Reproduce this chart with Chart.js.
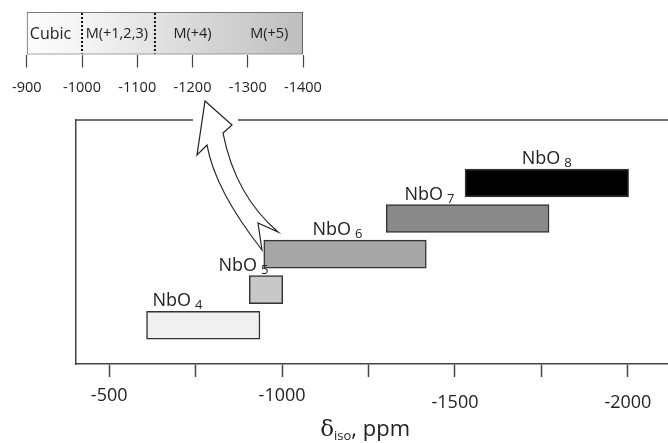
<!DOCTYPE html>
<html>
<head>
<meta charset="utf-8">
<script src="https://cdn.jsdelivr.net/npm/chart.js@4.4.1/dist/chart.umd.min.js"></script>
<style>
  body { margin: 0; background: #fff; }
  #wrap { position: relative; width: 668px; height: 443px; }
  canvas { position: absolute; left: 0; top: 0; }
</style>
</head>
<body>
<div id="wrap">
  <canvas id="mainChart" width="668" height="443"></canvas>
  <canvas id="insetChart" width="340" height="100"></canvas>
</div>
<script>
// main panel: chemical shift ranges of NbOx units
const speciesNames = ['NbO4', 'NbO5', 'NbO6', 'NbO7', 'NbO8'];
const rowIndex = [1, 2, 3, 4, 5];
const shiftFrom = [-608, -905, -947, -1301, -1529];
const shiftTo = [-936, -1002, -1417, -1772, -2002];
const labelAt = [-625, -816, -1088, -1354, -1693];
const barFills = ['#f0f0f0', '#c8c8c8', '#a6a6a6', '#8a8a8a', '#000000'];
const xTickValues = [-500, -750, -1000, -1250, -1500, -1750, -2000];

// inset: niobate classification scale
const insetRange = [-900, -1400];
const insetTickValues = [-900, -1000, -1100, -1200, -1300, -1400];
const insetRegions = ['Cubic', 'M(+1,2,3)', 'M(+4)', 'M(+5)'];
const insetRegionCentre = [-943, -1063, -1200, -1339];
const insetDividers = [-1000, -1132];

const textColor = '#222';
const lineColor = '#444';
const fontFamily = '"Open Sans", "DejaVu Sans", sans-serif';

const mainOverlay = {
    id: 'mainOverlay',
    afterDraw(chart) {
        const ctx = chart.ctx;
        const area = chart.chartArea;
        const xs = chart.scales.x;
        const ys = chart.scales.y;
        ctx.save();

        // top frame line, broken where the arrow passes
        ctx.strokeStyle = lineColor;
        ctx.lineWidth = 1.5;
        ctx.beginPath();
        ctx.moveTo(area.left - 0.75, area.top);
        ctx.lineTo(193, area.top);
        ctx.moveTo(238, area.top);
        ctx.lineTo(area.right, area.top);
        ctx.stroke();

        // staggered tick labels (every 500 ppm)
        ctx.fillStyle = textColor;
        ctx.font = '18px ' + fontFamily;
        ctx.textAlign = 'center';
        ctx.textBaseline = 'middle';
        xs.ticks.forEach(t => {
            if (t.value % 500 !== 0) return;
            const y = t.value < -1250 ? 403 : 396;
            ctx.fillText(String(t.value), xs.getPixelForValue(t.value), y);
        });

        // axis title
        ctx.textBaseline = 'alphabetic';
        ctx.textAlign = 'left';
        const cx = xs.getPixelForValue(-1240);
        ctx.font = '23px "DejaVu Serif", serif';
        const wd = ctx.measureText('\u03b4').width;
        ctx.font = '13px ' + fontFamily;
        const wi = ctx.measureText('iso').width;
        ctx.font = '22px ' + fontFamily;
        const wp = ctx.measureText(', ppm').width;
        let tx = cx - (wd + wi + wp) / 2;
        ctx.font = '23px "DejaVu Serif", serif';
        ctx.fillText('\u03b4', tx, 436);
        tx += wd;
        ctx.font = '13px ' + fontFamily;
        ctx.fillText('iso', tx, 440);
        tx += wi;
        ctx.font = '22px ' + fontFamily;
        ctx.fillText(', ppm', tx, 436);

        // species labels with subscripts
        speciesNames.forEach((name, i) => {
            const x = xs.getPixelForValue(labelAt[i]);
            const barTop = ys.getPixelForValue(rowIndex[i]) - 14;
            const base = barTop - 5;
            ctx.font = '18px ' + fontFamily;
            ctx.fillText(name.slice(0, 3), x, base);
            const w = ctx.measureText(name.slice(0, 3)).width;
            ctx.font = '13px ' + fontFamily;
            ctx.fillText(name.slice(3), x + w + 4, base + 3);
        });

        // curved open arrow pointing to the inset scale
        ctx.beginPath();
        ctx.moveTo(205, 101);
        ctx.lineTo(232, 125);
        ctx.lineTo(223, 133);
        ctx.quadraticCurveTo(235, 195, 278, 232);
        ctx.lineTo(258, 223);
        ctx.lineTo(262, 250);
        ctx.quadraticCurveTo(215, 190, 207, 145);
        ctx.lineTo(197, 155);
        ctx.closePath();
        ctx.fillStyle = '#fff';
        ctx.fill();
        ctx.strokeStyle = '#222';
        ctx.lineWidth = 1.2;
        ctx.stroke();
        ctx.restore();
    }
};

const mainCtx = document.getElementById('mainChart').getContext('2d');
const mainChart = new Chart(mainCtx, {
    type: 'bar',
    data: {
        datasets: [{
            data: speciesNames.map((n, i) => ({ x: [shiftFrom[i], shiftTo[i]], y: rowIndex[i] })),
            backgroundColor: barFills,
            borderColor: '#333',
            borderWidth: 1.5,
            borderSkipped: false,
            barThickness: 28
        }]
    },
    options: {
        responsive: false,
        animation: false,
        indexAxis: 'y',
        layout: {
            padding: { left: 76, right: 0, top: 120, bottom: 66 }
        },
        scales: {
            x: {
                type: 'linear',
                reverse: true,
                min: -2116,
                max: -404,
                afterBuildTicks: scale => {
                    scale.ticks = xTickValues.map(v => ({ value: v }));
                },
                ticks: { display: false },
                grid: {
                    drawOnChartArea: false,
                    tickLength: 13,
                    tickColor: lineColor,
                    tickWidth: 1.5
                },
                border: { color: lineColor, width: 1.5 }
            },
            y: {
                type: 'linear',
                min: 0.4,
                max: 6.28,
                ticks: { display: false },
                grid: { display: false, drawTicks: false },
                border: { display: true, color: lineColor, width: 1.5 }
            }
        },
        plugins: {
            legend: { display: false },
            tooltip: { enabled: false }
        }
    },
    plugins: [mainOverlay]
});

const insetOverlay = {
    id: 'insetOverlay',
    afterDatasetsDraw(chart) {
        const ctx = chart.ctx;
        const area = chart.chartArea;
        const xs = chart.scales.x;
        ctx.save();
        ctx.strokeStyle = '#111';
        ctx.lineWidth = 2;
        ctx.setLineDash([2, 2]);
        insetDividers.forEach(v => {
            const x = xs.getPixelForValue(v);
            ctx.beginPath();
            ctx.moveTo(x, area.top + 1);
            ctx.lineTo(x, area.bottom - 1);
            ctx.stroke();
        });
        ctx.setLineDash([]);
        ctx.fillStyle = textColor;
        ctx.textAlign = 'center';
        ctx.textBaseline = 'middle';
        insetRegions.forEach((name, i) => {
            ctx.font = (i === 0 ? '16px ' : '14.5px ') + fontFamily;
            ctx.fillText(name, xs.getPixelForValue(insetRegionCentre[i]), (area.top + area.bottom) / 2 + 1);
        });
        ctx.restore();
    }
};

const insetCtx = document.getElementById('insetChart').getContext('2d');
const insetChart = new Chart(insetCtx, {
    type: 'bar',
    data: {
        labels: [''],
        datasets: [{
            data: [insetRange],
            backgroundColor(context) {
                const area = context.chart.chartArea;
                if (!area) return '#e0e0e0';
                const g = context.chart.ctx.createLinearGradient(area.left, 0, area.right, 0);
                g.addColorStop(0, '#fdfdfd');
                g.addColorStop(0.22, '#f3f3f3');
                g.addColorStop(1, '#bebebe');
                return g;
            },
            borderColor: '#555',
            borderWidth: 1.2,
            borderSkipped: false,
            barPercentage: 1,
            categoryPercentage: 1
        }]
    },
    options: {
        responsive: false,
        animation: false,
        indexAxis: 'y',
        layout: {
            padding: { left: 26, right: 37, top: 12, bottom: 3 }
        },
        scales: {
            x: {
                type: 'linear',
                reverse: true,
                min: -1400,
                max: -900,
                afterBuildTicks: scale => {
                    scale.ticks = insetTickValues.map(v => ({ value: v }));
                },
                ticks: {
                    padding: 12,
                    color: textColor,
                    font: { size: 14.5, family: fontFamily },
                    callback: value => String(value)
                },
                grid: {
                    drawOnChartArea: false,
                    tickLength: 13,
                    tickColor: lineColor,
                    tickWidth: 1.2
                },
                border: { display: false }
            },
            y: { display: false }
        },
        plugins: {
            legend: { display: false },
            tooltip: { enabled: false }
        }
    },
    plugins: [insetOverlay]
});
</script>
</body>
</html>
